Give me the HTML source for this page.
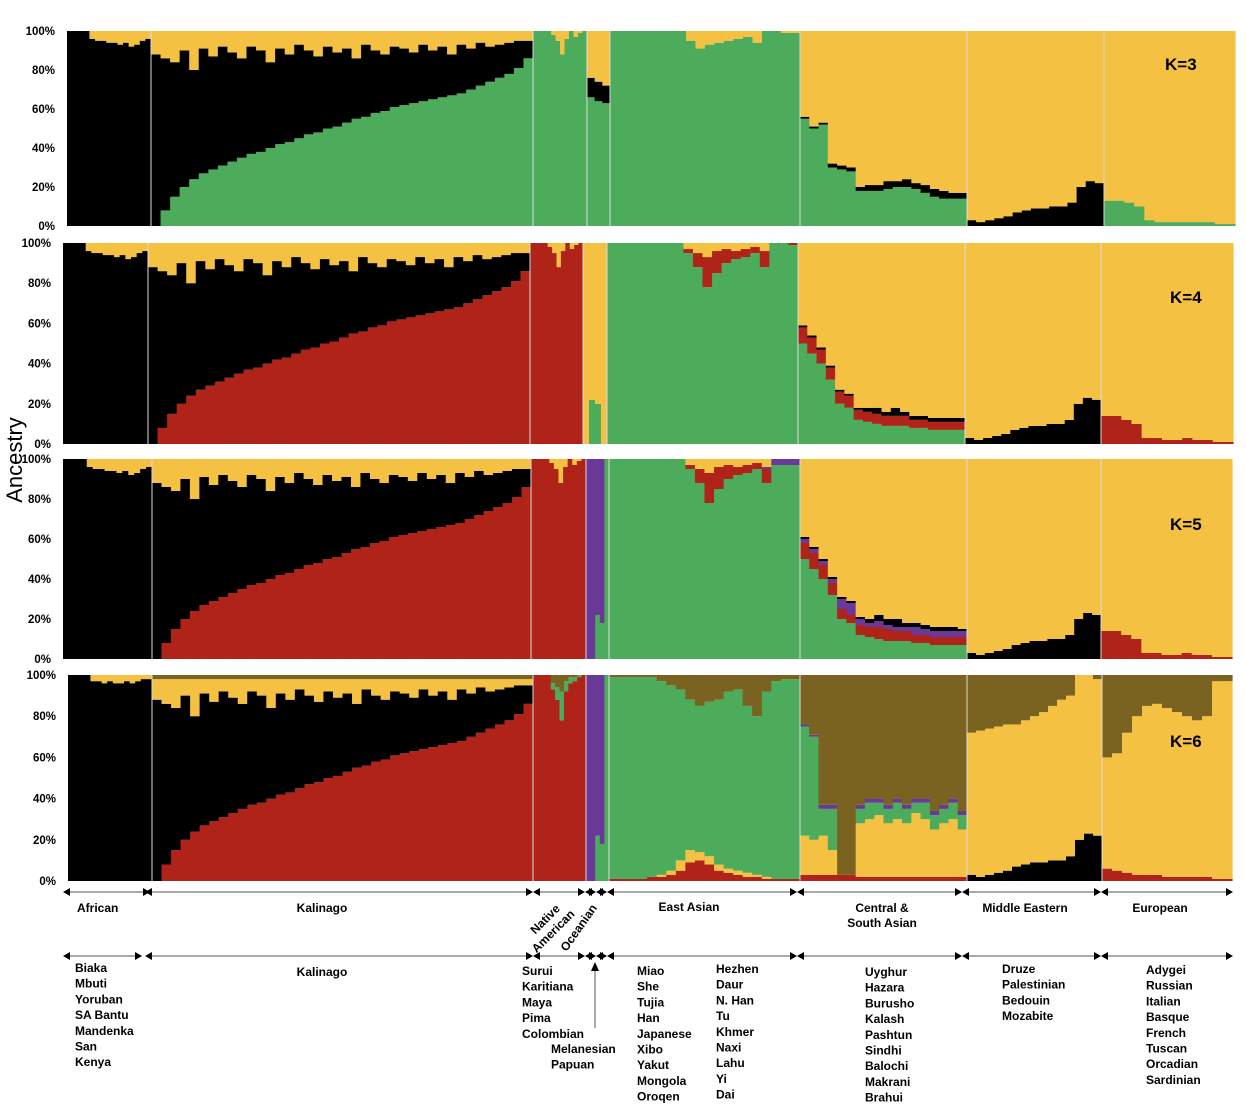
<!DOCTYPE html>
<html><head><meta charset="utf-8"><style>
body{margin:0;background:#fff;}
svg{display:block;font-family:"Liberation Sans",sans-serif;}
</style></head><body>
<svg id="chart" width="1246" height="1118" viewBox="0 0 1246 1118"></svg>
<script>
// ---- data (ancestry %, cumulative layer tops, bottom-up) ----
const yTicks = ["0%","20%","40%","60%","80%","100%"];
const yTickVals = [0,20,40,60,80,100];
const kLabels = ["K=3","K=4","K=5","K=6"];
const groupNames = ["african","kalinago","native-american","oceanian","east-asian","central-south-asian","middle-eastern","european"];

const afrBlack = [100,100,100,100,96,95,95,94,94,93,94,92,93,95,96];
const afrBlack6 = [100,100,100,100,97,97,96,97,96,96,97,96,97,98,98];
const kalLow = [0,8,15,20,24,27,29,31,33,35,37,38,40,42,43,45,47,48,50,51,53,55,56,58,59,61,62,63,64,65,66,67,68,70,72,74,76,78,81,86];
const kalTop = [88,86,84,90,80,91,87,92,89,86,92,90,84,91,88,93,90,87,92,89,91,86,93,90,88,92,91,89,93,90,92,88,93,91,94,92,93,94,95,95];
const kalCap6 = [98,98,98,98,98,98,98,98,98,98,98,98,98,98,98,98,98,98,98,98,98,98,98,98,98,98,98,98,98,98,98,98,98,98,98,98,98,98,98,98];
const natMain = [100,100,100,100,98,95,88,96,100,97,99,100];
const natRed6 = [100,100,100,100,93,88,78,92,96,97,99,100];
const natGreen6 = [100,100,100,100,96,94,92,97,99,99,100,100];
const oceGreen3 = [66,64,63];
const oceBlack3 = [76,74,72];
const oceGreen4 = [0,22,20,0];
const oceGreen5 = [0,0,22,18,100];
const eaGreen3 = [100,100,100,100,100,100,100,100,95,91,93,94,95,96,97,94,100,100,99,99];
const eaGreen4 = [100,100,100,100,100,100,100,100,95,88,78,85,90,92,93,95,88,100,100,99];
const eaRed4 = [100,100,100,100,100,100,100,100,97,95,93,96,97,96,97,98,96,100,100,100];
const eaGreen5 = [100,100,100,100,100,100,100,100,95,88,78,85,90,92,93,95,88,97,97,97];
const eaRed5 = [100,100,100,100,100,100,100,100,97,95,93,96,97,96,97,98,95,97,97,97];
const eaPurple5 = [100,100,100,100,100,100,100,100,97,95,93,96,97,96,97,98,96,100,100,100];
const eaRed6 = [1,1,1,1,2,2,3,5,9,10,8,5,4,3,2,2,1,1,1,1];
const eaYellow6 = [1,1,1,1,2,3,5,10,15,14,12,8,6,5,4,3,2,1,1,1];
const eaGreen6 = [99,99,99,99,99,97,95,93,88,85,87,88,92,93,85,80,92,97,98,98];
const csGreen3 = [55,50,52,30,29,28,18,18,18,19,20,20,19,17,15,14,14,14];
const csBlack3 = [56,51,53,32,31,30,20,21,21,23,23,24,22,21,19,18,17,17];
const csGreen4 = [50,45,40,32,20,18,12,11,10,9,9,9,8,8,7,7,7,7];
const csRed4 = [58,53,47,38,26,24,17,16,15,14,14,14,12,12,11,11,11,11];
const csBlack4 = [59,54,48,39,27,25,18,18,18,16,18,16,14,14,13,13,13,13];
const csRed5 = [58,53,47,38,25,22,17,16,16,15,14,14,12,12,11,11,11,11];
const csPurple5 = [60,55,49,40,30,28,20,18,19,17,16,16,16,15,14,14,14,14];
const csBlack5 = [61,56,50,41,31,29,21,20,22,20,20,18,18,17,16,16,16,15];
const csRed6 = [3,3,3,3,3,3,2,2,2,2,2,2,2,2,2,2,2,2];
const csYellow6 = [22,20,22,15,3,3,28,30,32,28,30,28,33,30,25,28,30,25];
const csGreen6 = [75,70,35,35,3,3,35,38,38,35,38,35,38,38,32,35,38,32];
const csPurple6 = [76,71,37,37,3,3,37,40,40,37,40,37,40,40,34,37,40,34];
const meBlack = [3,2,3,4,5,7,8,9,9,10,10,12,20,23,22];
const meYellow6 = [72,73,74,75,76,76,78,80,82,85,88,90,100,100,98];
const euGreen3 = [13,13,12,10,3,2,2,2,2,2,2,1,1];
const euRed4 = [14,14,12,10,3,3,2,2,3,2,2,1,1];
const euRed6 = [6,5,4,3,3,3,2,2,2,2,2,1,1];
const euYellow6 = [60,62,72,80,85,86,84,82,80,78,80,97,97];

const C={Y:"#f4c142",B:"#000000",G:"#4dab5c",R:"#b02319",P:"#6a3899",O:"#7a6220"};

const panels=[
 {k:0,x0:67,x1:1235,yT:31,yB:226,bounds:[67,151,533,587,610,800,967,1104,1235],lx:1165,ly:70,
  groups:[[[["B",afrBlack]],"Y"],[[["G",kalLow],["B",kalTop]],"Y"],[[["G",natMain]],"Y"],[[["G",oceGreen3],["B",oceBlack3]],"Y"],
   [[["G",eaGreen3]],"Y"],[[["G",csGreen3],["B",csBlack3]],"Y"],[[["B",meBlack]],"Y"],[[["G",euGreen3]],"Y"]]},
 {k:1,x0:63,x1:1233,yT:243,yB:444,bounds:[63,148,530,583,607,798,965,1101,1233],lx:1170,ly:303,
  groups:[[[["B",afrBlack]],"Y"],[[["R",kalLow],["B",kalTop]],"Y"],[[["R",natMain]],"Y"],[[["G",oceGreen4]],"Y"],
   [[["G",eaGreen4],["R",eaRed4]],"Y"],[[["G",csGreen4],["R",csRed4],["B",csBlack4]],"Y"],[[["B",meBlack]],"Y"],[[["R",euRed4]],"Y"]]},
 {k:2,x0:63,x1:1232,yT:459,yB:659,bounds:[63,152,531,586,609,800,967,1101,1232],lx:1170,ly:530,
  groups:[[[["B",afrBlack]],"Y"],[[["R",kalLow],["B",kalTop]],"Y"],[[["R",natMain]],"Y"],[[["G",oceGreen5]],"P"],
   [[["G",eaGreen5],["R",eaRed5],["P",eaPurple5]],"Y"],[[["G",csGreen4],["R",csRed5],["P",csPurple5],["B",csBlack5]],"Y"],[[["B",meBlack]],"Y"],[[["R",euRed4]],"Y"]]},
 {k:3,x0:68,x1:1232,yT:675,yB:881,bounds:[68,152,533,586,609,800,967,1102,1232],lx:1170,ly:747,
  groups:[[[["B",afrBlack6]],"Y"],[[["R",kalLow],["B",kalTop],["Y",kalCap6]],"O"],[[["R",natRed6],["G",natGreen6]],"O"],[[["G",oceGreen5]],"P"],
   [[["R",eaRed6],["Y",eaYellow6],["G",eaGreen6]],"O"],[[["R",csRed6],["Y",csYellow6],["G",csGreen6],["P",csPurple6]],"O"],[[["B",meBlack],["Y",meYellow6]],"O"],[[["R",euRed6],["Y",euYellow6]],"O"]]}
];

const NS="http://www.w3.org/2000/svg";
const svg=document.getElementById("chart");
function el(tag,attrs,parent){const e=document.createElementNS(NS,tag);for(const a in attrs)e.setAttribute(a,attrs[a]);(parent||svg).appendChild(e);return e;}

panels.forEach(p=>{
  const g=el("g",{});
  
  
  const y=v=>p.yB-(v/100)*(p.yB-p.yT);
  p.groups.forEach((grp,gi)=>{
    const gx0=p.bounds[gi],gx1=p.bounds[gi+1];
    const layers=grp[0],fill=grp[1];
    const n=layers[0][1].length;
    const w=(gx1-gx0)/n;
    const gg=el("g",{},g);
    
    
    for(let i=0;i<n;i++){
      const bx=gx0+i*w;
      let prev=0;
      layers.forEach(L=>{
        const top=Math.max(prev,L[1][i]);
        if(top>prev){const r=el("rect",{x:bx,y:y(top),width:w+0.6,height:y(prev)-y(top),fill:C[L[0]]},gg);
          
          }
        prev=top;
      });
      if(prev<100){const r=el("rect",{x:bx,y:y(100),width:w+0.6,height:y(prev)-y(100),fill:C[fill]},gg);
        
        }
    }
    if(gi>0){const s=el("line",{x1:gx0,x2:gx0,y1:p.yT,y2:p.yB,stroke:"#ddd","stroke-width":1},g);
      
      }
  });
  yTickVals.forEach((v,i)=>{
    const t=el("text",{x:p.x0-12,y:y(v)+4,"text-anchor":"end","font-size":"11.5","font-weight":"bold"},g);
    t.textContent=yTicks[i];
    
    
  });
  const kl=el("text",{x:p.lx,y:p.ly,"font-size":"17","font-weight":"bold"},g);
  kl.textContent=kLabels[p.k];
  
  
});

const yl=el("text",{x:0,y:0,"font-size":"22",transform:"translate(22,460) rotate(-90)","text-anchor":"middle"});
yl.textContent="Ancestry";



function arrow(a,b,yy){
  const g=el("g",{});
  
  
  el("line",{x1:a+4,x2:b-4,y1:yy,y2:yy,stroke:"#555","stroke-width":1},g);
  el("polygon",{points:`${a},${yy} ${a+7},${yy-4} ${a+7},${yy+4}`,fill:"#000"},g);
  el("polygon",{points:`${b},${yy} ${b-7},${yy-4} ${b-7},${yy+4}`,fill:"#000"},g);
}
[[63,150],[145,533],[533,585],[585,596],[596,607],[607,797],[797,962],[962,1101],[1101,1233]].forEach(s=>arrow(s[0],s[1],892));
[[63,142],[145,533],[533,585],[585,596],[596,607],[607,797],[797,962],[962,1101],[1101,1233]].forEach(s=>arrow(s[0],s[1],956));

function txt(s,x,yy,anchor,name,extra){
  const t=el("text",Object.assign({x:x,y:yy,"font-size":"12","font-weight":"bold","text-anchor":anchor||"start"},extra||{}));
  t.textContent=s;
  
  
}
txt("African",77,912,"start","region-label");
txt("Kalinago",322,912,"middle","region-label");
txt("Native",548,922,"middle","region-label",{transform:"rotate(-45 548 922)"});
txt("American",556,934,"middle","region-label",{transform:"rotate(-45 556 934)"});
txt("Oceanian",582,930,"middle","region-label",{transform:"rotate(-55 582 930)"});
txt("East Asian",689,911,"middle","region-label");
txt("Central &",882,912,"middle","region-label");
txt("South Asian",882,927,"middle","region-label");
txt("Middle Eastern",1025,912,"middle","region-label");
txt("European",1160,912,"middle","region-label");
txt("Kalinago",322,976,"middle","population-label");

const listAfr=["Biaka","Mbuti","Yoruban","SA Bantu","Mandenka","San","Kenya"];
const listNat=["Surui","Karitiana","Maya","Pima","Colombian"];
const listOce=["Melanesian","Papuan"];
const listEa1=["Miao","She","Tujia","Han","Japanese","Xibo","Yakut","Mongola","Oroqen"];
const listEa2=["Hezhen","Daur","N. Han","Tu","Khmer","Naxi","Lahu","Yi","Dai"];
const listCs=["Uyghur","Hazara","Burusho","Kalash","Pashtun","Sindhi","Balochi","Makrani","Brahui"];
const listMe=["Druze","Palestinian","Bedouin","Mozabite"];
const listEu=["Adygei","Russian","Italian","Basque","French","Tuscan","Orcadian","Sardinian"];
[[listAfr,75,972],[listNat,522,975],[listOce,551,1053],[listEa1,637,975],[listEa2,716,973],[listCs,865,976],[listMe,1002,973],[listEu,1146,974]]
 .forEach(L=>L[0].forEach((s,i)=>txt(s,L[1],L[2]+i*15.7,"start","population-label")));

const va=el("g",{});


el("line",{x1:595,x2:595,y1:1028,y2:970,stroke:"#555","stroke-width":1},va);
el("polygon",{points:"595,962 591,971 599,971",fill:"#000"},va);
</script>
</body></html>
